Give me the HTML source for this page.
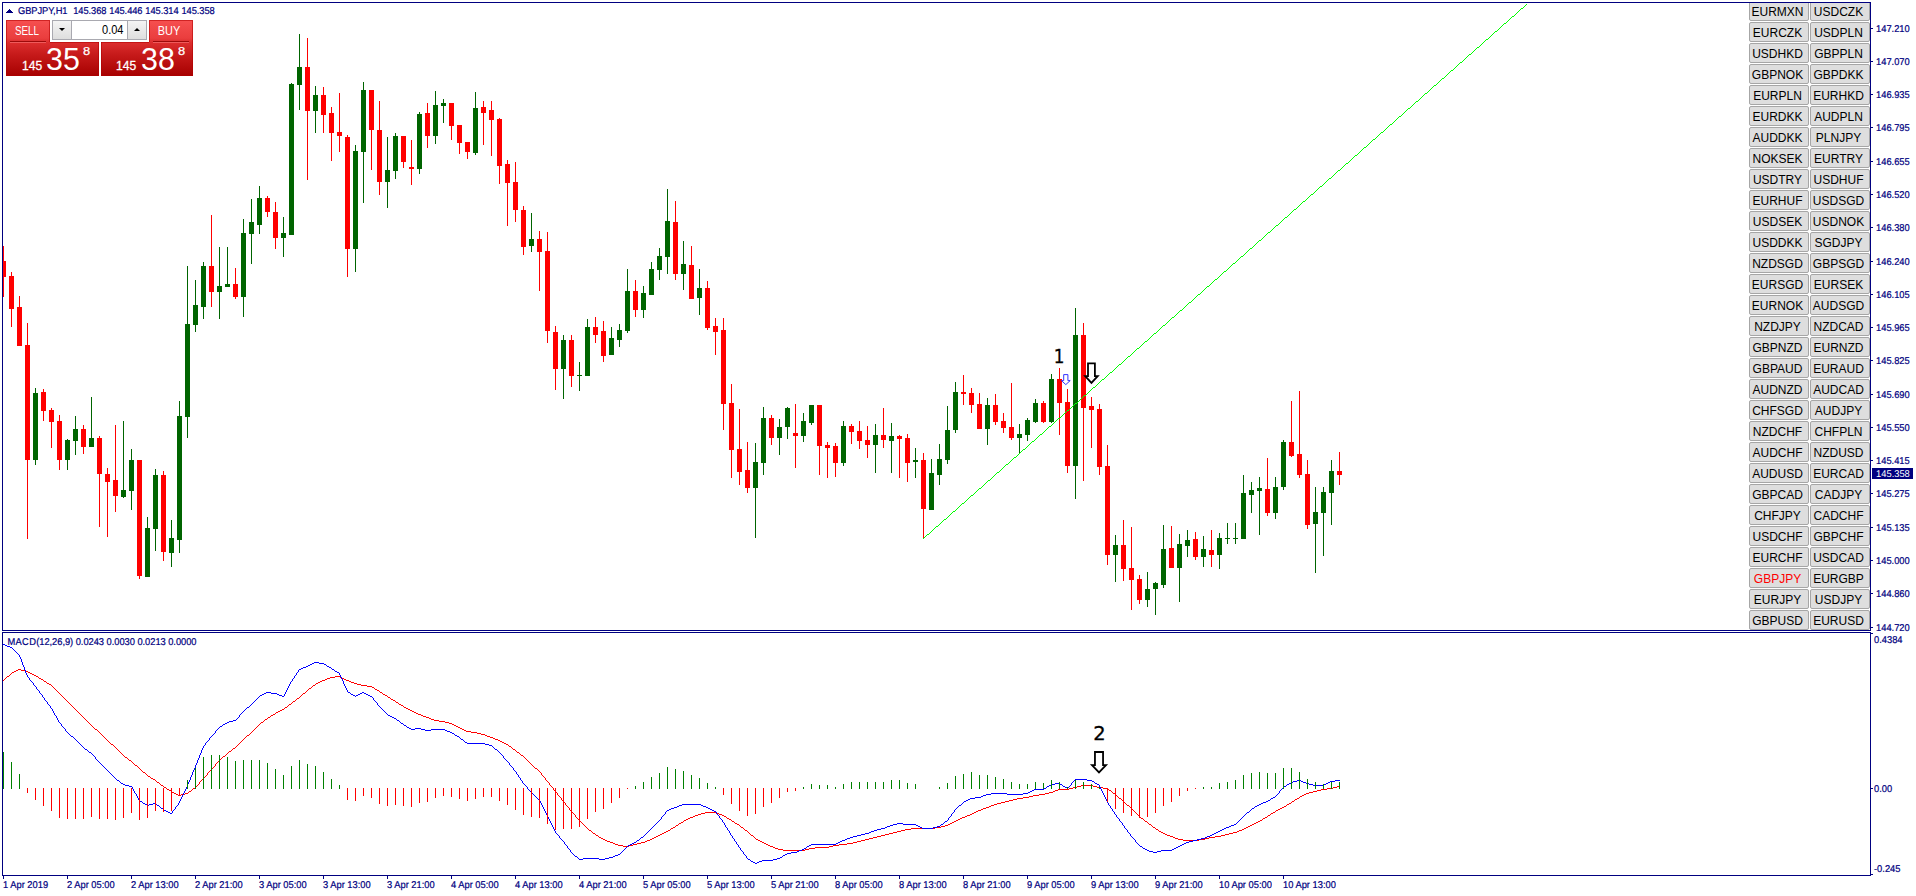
<!DOCTYPE html>
<html lang="en"><head><meta charset="utf-8"><title>GBPJPY,H1</title>
<style>
html,body{margin:0;padding:0;background:#fff}
body{width:1916px;height:896px;position:relative;overflow:hidden;font-family:"Liberation Sans",sans-serif}
.ax{position:absolute;font-size:9.33px;line-height:11px;color:#000080;white-space:nowrap;text-rendering:geometricPrecision;transform-origin:0 7.73px;transform:scaleY(1.06);-webkit-text-stroke:.2px #000080}
.cur{position:absolute;width:41px;height:11px;background:#000080}
.cur span{position:absolute;left:4.1px;top:1.27px;color:#fff;font-size:9.33px;line-height:11px;white-space:nowrap;text-rendering:geometricPrecision;transform-origin:0 8.73px;transform:scaleY(1.06)}
.trisvg{position:absolute;left:6px;top:9px}
.num{position:absolute;font-family:"DejaVu Sans",sans-serif;font-size:19.5px;line-height:22px;color:#000;-webkit-text-stroke:.3px #000}
.sb{position:absolute;box-sizing:border-box;width:60px;height:20px;background:#dedede;border:1px solid #a6a6a6;border-radius:2px;font-size:12px;line-height:19px;text-align:center;color:#000;white-space:nowrap}
.sb span{display:block;margin:0 -4px;position:relative;left:-1.5px;top:1px}
.cap{position:absolute;left:1749px;top:0;width:121px;height:3px;background:linear-gradient(#fff 0,#fff 2px,#000080 2px,#000080 3px)}
#tp{position:absolute;left:6px;top:20px;width:187px;height:56px}
#tp>*{position:absolute}
.tb,.tbg{background-image:linear-gradient(#f65050 0,#ea3e3e 18px,#dc2e2e 40%,#c61a1a 62%,#a60000 100%);background-size:100% 56px;background-repeat:no-repeat;box-shadow:inset 0 0 0 1px rgba(176,0,0,.55)}
.tbg{background-position:0 -22px;box-shadow:inset 1px 0 0 rgba(176,0,0,.55),inset -1px 0 0 rgba(176,0,0,.55),inset 0 -1px 0 rgba(176,0,0,.55)}
.tl2{height:1px;background:rgba(176,0,0,.55)}
.ul{height:1px;background:#9c0a0a;box-shadow:0 1px 0 rgba(255,130,130,.55)}
.tl{color:#fff;font-size:12px;line-height:16px;text-align:center;transform:scaleX(.82)}
.spin{left:46px;top:0;width:95px;height:20px;background:#fff;border:1px solid #a9a9b0;box-sizing:border-box}
.sbt{position:absolute;top:0;width:18px;height:18px;background:linear-gradient(#f4f4f4,#dedede)}
.sbt.l{border-right:1px solid #a9a9b0}.sbt.r{border-left:1px solid #a9a9b0}
.sin{position:absolute;left:19px;width:51.5px;top:0;height:18px;text-align:right;font-size:12.6px;line-height:19px;color:#000;transform-origin:100% 50%;transform:scaleX(.875)}
.sbt i{position:absolute;left:6px;width:0;height:0;border-left:3px solid transparent;border-right:3px solid transparent}
.sbt i.dn{top:7px;border-top:3px solid #000}
.sbt i.up{top:7px;border-bottom:3px solid #000}
.sm{color:#fff;-webkit-text-stroke:.3px #fff;font-size:13px;line-height:12px;transform-origin:0 0;transform:scaleX(.93)}
.bg{color:#fff;font-size:31px;line-height:34px;transform-origin:0 0;transform:scaleX(.98)}
.sp{color:#fff;-webkit-text-stroke:.25px #fff;font-size:11.5px;line-height:12px;transform-origin:0 0;transform:scaleX(1.12)}
</style></head>
<body>
<svg width="1916" height="896" viewBox="0 0 1916 896" style="position:absolute;left:0;top:0" shape-rendering="crispEdges">
<g id="candles"><path fill="#ff0000" d="M3 246h1v51h-1zM1 261h5v16h-5zM11 272h1v55h-1zM9 276h5v33h-5zM19 296h1v50h-1zM17 307h5v39h-5zM27 323h1v216h-1zM25 345h5v115h-5zM43 389h1v32h-1zM41 392h5v19h-5zM51 408h1v40h-1zM49 410h5v12h-5zM59 415h1v55h-1zM57 421h5v39h-5zM83 425h1v29h-1zM81 429h5v18h-5zM99 436h1v91h-1zM97 438h5v36h-5zM107 468h1v69h-1zM105 474h5v8h-5zM115 425h1v87h-1zM113 480h5v16h-5zM139 460h1v119h-1zM137 460h5v116h-5zM163 471h1v90h-1zM161 475h5v77h-5zM211 215h1v92h-1zM209 266h5v26h-5zM235 268h1v31h-1zM233 284h5v13h-5zM267 196h1v21h-1zM265 198h5v14h-5zM275 202h1v47h-1zM273 212h5v26h-5zM307 38h1v142h-1zM305 67h5v44h-5zM323 87h1v46h-1zM321 95h5v20h-5zM331 107h1v54h-1zM329 113h5v20h-5zM339 93h1v59h-1zM337 132h5v4h-5zM347 135h1v142h-1zM345 137h5v112h-5zM371 90h1v80h-1zM369 90h5v40h-5zM379 101h1v94h-1zM377 130h5v52h-5zM403 136h1v32h-1zM401 136h5v26h-5zM411 140h1v45h-1zM409 167h5v2h-5zM427 103h1v45h-1zM425 113h5v23h-5zM451 103h1v37h-1zM449 103h5v23h-5zM459 125h1v29h-1zM457 125h5v18h-5zM467 142h1v17h-1zM465 142h5v10h-5zM483 101h1v44h-1zM481 107h5v6h-5zM491 101h1v55h-1zM489 110h5v10h-5zM499 118h1v66h-1zM497 119h5v47h-5zM507 160h1v66h-1zM505 164h5v19h-5zM515 162h1v60h-1zM513 182h5v28h-5zM523 206h1v49h-1zM521 210h5v37h-5zM539 231h1v60h-1zM537 239h5v13h-5zM547 232h1v111h-1zM545 251h5v80h-5zM555 326h1v64h-1zM553 332h5v37h-5zM571 335h1v52h-1zM569 340h5v36h-5zM595 317h1v26h-1zM593 327h5v8h-5zM603 321h1v41h-1zM601 331h5v25h-5zM635 280h1v37h-1zM633 291h5v19h-5zM675 201h1v79h-1zM673 222h5v52h-5zM691 246h1v53h-1zM689 265h5v34h-5zM707 281h1v49h-1zM705 288h5v40h-5zM715 318h1v37h-1zM713 326h5v6h-5zM723 318h1v112h-1zM721 330h5v74h-5zM731 384h1v94h-1zM729 403h5v47h-5zM739 409h1v76h-1zM737 449h5v23h-5zM747 442h1v51h-1zM745 470h5v18h-5zM771 415h1v30h-1zM769 418h5v20h-5zM795 404h1v64h-1zM793 433h5v3h-5zM819 405h1v70h-1zM817 405h5v41h-5zM827 442h1v36h-1zM825 445h5v3h-5zM835 443h1v34h-1zM833 446h5v17h-5zM851 424h1v20h-1zM849 426h5v6h-5zM859 421h1v28h-1zM857 431h5v10h-5zM867 426h1v32h-1zM865 440h5v5h-5zM883 408h1v40h-1zM881 435h5v5h-5zM899 435h1v43h-1zM897 436h5v3h-5zM907 434h1v48h-1zM905 438h5v25h-5zM923 453h1v86h-1zM921 460h5v49h-5zM963 375h1v30h-1zM961 392h5v2h-5zM971 388h1v25h-1zM969 393h5v12h-5zM979 393h1v36h-1zM977 404h5v25h-5zM995 394h1v31h-1zM993 405h5v17h-5zM1003 413h1v20h-1zM1001 421h5v7h-5zM1011 383h1v57h-1zM1009 427h5v11h-5zM1043 401h1v22h-1zM1041 403h5v19h-5zM1059 368h1v67h-1zM1057 379h5v24h-5zM1067 389h1v84h-1zM1065 402h5v64h-5zM1083 323h1v158h-1zM1081 335h5v73h-5zM1091 397h1v51h-1zM1089 406h5v4h-5zM1099 404h1v71h-1zM1097 409h5v58h-5zM1107 445h1v120h-1zM1105 466h5v89h-5zM1123 520h1v61h-1zM1121 545h5v24h-5zM1131 527h1v83h-1zM1129 568h5v12h-5zM1139 575h1v29h-1zM1137 579h5v21h-5zM1171 526h1v42h-1zM1169 548h5v20h-5zM1195 532h1v28h-1zM1193 539h5v18h-5zM1211 530h1v37h-1zM1209 550h5v5h-5zM1267 458h1v58h-1zM1265 489h5v24h-5zM1291 401h1v56h-1zM1289 442h5v14h-5zM1299 391h1v87h-1zM1297 454h5v21h-5zM1307 460h1v69h-1zM1305 474h5v51h-5zM1339 452h1v33h-1zM1337 471h5v4h-5z"/>
<path fill="#006400" d="M35 388h1v77h-1zM33 393h5v67h-5zM67 439h1v31h-1zM65 440h5v20h-5zM75 416h1v39h-1zM73 429h5v12h-5zM91 397h1v50h-1zM89 438h5v9h-5zM123 421h1v77h-1zM121 490h5v7h-5zM131 449h1v61h-1zM129 460h5v31h-5zM147 517h1v60h-1zM145 528h5v49h-5zM155 469h1v82h-1zM153 475h5v54h-5zM171 520h1v47h-1zM169 538h5v15h-5zM179 401h1v152h-1zM177 416h5v124h-5zM187 266h1v172h-1zM185 324h5v93h-5zM195 280h1v52h-1zM193 305h5v20h-5zM203 262h1v57h-1zM201 266h5v41h-5zM219 247h1v72h-1zM217 286h5v6h-5zM227 247h1v40h-1zM225 284h5v3h-5zM243 219h1v98h-1zM241 233h5v64h-5zM251 199h1v65h-1zM249 222h5v12h-5zM259 186h1v48h-1zM257 198h5v27h-5zM283 217h1v40h-1zM281 233h5v5h-5zM291 83h1v152h-1zM289 84h5v151h-5zM299 34h1v76h-1zM297 67h5v18h-5zM315 86h1v47h-1zM313 95h5v16h-5zM355 145h1v127h-1zM353 151h5v98h-5zM363 82h1v121h-1zM361 90h5v62h-5zM387 137h1v71h-1zM385 170h5v12h-5zM395 133h1v46h-1zM393 136h5v35h-5zM419 112h1v62h-1zM417 114h5v55h-5zM435 91h1v53h-1zM433 105h5v31h-5zM443 99h1v24h-1zM441 103h5v3h-5zM475 92h1v63h-1zM473 108h5v45h-5zM531 213h1v39h-1zM529 239h5v7h-5zM563 335h1v64h-1zM561 340h5v29h-5zM579 362h1v29h-1zM577 375h5v1h-5zM587 319h1v57h-1zM585 327h5v49h-5zM611 327h1v28h-1zM609 338h5v17h-5zM619 324h1v23h-1zM617 330h5v10h-5zM627 269h1v64h-1zM625 291h5v40h-5zM643 286h1v32h-1zM641 293h5v17h-5zM651 262h1v33h-1zM649 269h5v26h-5zM659 248h1v32h-1zM657 256h5v14h-5zM667 189h1v85h-1zM665 221h5v36h-5zM683 241h1v49h-1zM681 264h5v10h-5zM699 269h1v46h-1zM697 288h5v10h-5zM755 443h1v95h-1zM753 462h5v26h-5zM763 407h1v68h-1zM761 418h5v45h-5zM779 419h1v36h-1zM777 427h5v11h-5zM787 407h1v32h-1zM785 408h5v19h-5zM803 413h1v29h-1zM801 421h5v15h-5zM811 405h1v20h-1zM809 405h5v18h-5zM843 421h1v45h-1zM841 426h5v37h-5zM875 424h1v49h-1zM873 435h5v10h-5zM891 423h1v50h-1zM889 436h5v5h-5zM915 448h1v30h-1zM913 460h5v2h-5zM931 459h1v51h-1zM929 473h5v37h-5zM939 444h1v41h-1zM937 459h5v16h-5zM947 406h1v58h-1zM945 430h5v30h-5zM955 382h1v51h-1zM953 392h5v38h-5zM987 398h1v47h-1zM985 405h5v24h-5zM1019 424h1v29h-1zM1017 434h5v4h-5zM1027 418h1v23h-1zM1025 420h5v15h-5zM1035 399h1v24h-1zM1033 403h5v19h-5zM1051 374h1v49h-1zM1049 379h5v43h-5zM1075 308h1v191h-1zM1073 335h5v131h-5zM1115 535h1v47h-1zM1113 545h5v10h-5zM1147 572h1v35h-1zM1145 589h5v11h-5zM1155 582h1v33h-1zM1153 583h5v6h-5zM1163 525h1v63h-1zM1161 549h5v36h-5zM1179 534h1v68h-1zM1177 544h5v24h-5zM1187 530h1v27h-1zM1185 540h5v6h-5zM1203 536h1v31h-1zM1201 549h5v8h-5zM1219 533h1v36h-1zM1217 538h5v17h-5zM1227 523h1v21h-1zM1225 538h5v1h-5zM1235 523h1v21h-1zM1233 538h5v1h-5zM1243 475h1v64h-1zM1241 493h5v46h-5zM1251 482h1v31h-1zM1249 490h5v5h-5zM1259 477h1v58h-1zM1257 488h5v3h-5zM1275 477h1v42h-1zM1273 487h5v26h-5zM1283 440h1v50h-1zM1281 442h5v45h-5zM1315 487h1v86h-1zM1313 512h5v12h-5zM1323 487h1v69h-1zM1321 492h5v21h-5zM1331 460h1v65h-1zM1329 471h5v22h-5z"/></g>
<g id="trend"><path fill="#00ff00" d="M923 538h1v1h-1zM924 537h1v1h-1zM925 536h1v1h-1zM926 535h1v1h-1zM927 534h2v1h-2zM929 533h1v1h-1zM930 532h1v1h-1zM931 531h1v1h-1zM932 530h1v1h-1zM933 529h1v1h-1zM934 528h1v1h-1zM935 527h1v1h-1zM936 526h2v1h-2zM938 525h1v1h-1zM939 524h1v1h-1zM940 523h1v1h-1zM941 522h1v1h-1zM942 521h1v1h-1zM943 520h1v1h-1zM944 519h2v1h-2zM946 518h1v1h-1zM947 517h1v1h-1zM948 516h1v1h-1zM949 515h1v1h-1zM950 514h1v1h-1zM951 513h1v1h-1zM952 512h1v1h-1zM953 511h2v1h-2zM955 510h1v1h-1zM956 509h1v1h-1zM957 508h1v1h-1zM958 507h1v1h-1zM959 506h1v1h-1zM960 505h1v1h-1zM961 504h1v1h-1zM962 503h2v1h-2zM964 502h1v1h-1zM965 501h1v1h-1zM966 500h1v1h-1zM967 499h1v1h-1zM968 498h1v1h-1zM969 497h1v1h-1zM970 496h1v1h-1zM971 495h2v1h-2zM973 494h1v1h-1zM974 493h1v1h-1zM975 492h1v1h-1zM976 491h1v1h-1zM977 490h1v1h-1zM978 489h1v1h-1zM979 488h2v1h-2zM981 487h1v1h-1zM982 486h1v1h-1zM983 485h1v1h-1zM984 484h1v1h-1zM985 483h1v1h-1zM986 482h1v1h-1zM987 481h1v1h-1zM988 480h2v1h-2zM990 479h1v1h-1zM991 478h1v1h-1zM992 477h1v1h-1zM993 476h1v1h-1zM994 475h1v1h-1zM995 474h1v1h-1zM996 473h1v1h-1zM997 472h2v1h-2zM999 471h1v1h-1zM1000 470h1v1h-1zM1001 469h1v1h-1zM1002 468h1v1h-1zM1003 467h1v1h-1zM1004 466h1v1h-1zM1005 465h1v1h-1zM1006 464h2v1h-2zM1008 463h1v1h-1zM1009 462h1v1h-1zM1010 461h1v1h-1zM1011 460h1v1h-1zM1012 459h1v1h-1zM1013 458h1v1h-1zM1014 457h2v1h-2zM1016 456h1v1h-1zM1017 455h1v1h-1zM1018 454h1v1h-1zM1019 453h1v1h-1zM1020 452h1v1h-1zM1021 451h1v1h-1zM1022 450h1v1h-1zM1023 449h2v1h-2zM1025 448h1v1h-1zM1026 447h1v1h-1zM1027 446h1v1h-1zM1028 445h1v1h-1zM1029 444h1v1h-1zM1030 443h1v1h-1zM1031 442h1v1h-1zM1032 441h2v1h-2zM1034 440h1v1h-1zM1035 439h1v1h-1zM1036 438h1v1h-1zM1037 437h1v1h-1zM1038 436h1v1h-1zM1039 435h1v1h-1zM1040 434h2v1h-2zM1042 433h1v1h-1zM1043 432h1v1h-1zM1044 431h1v1h-1zM1045 430h1v1h-1zM1046 429h1v1h-1zM1047 428h1v1h-1zM1048 427h1v1h-1zM1049 426h2v1h-2zM1051 425h1v1h-1zM1052 424h1v1h-1zM1053 423h1v1h-1zM1054 422h1v1h-1zM1055 421h1v1h-1zM1056 420h1v1h-1zM1057 419h1v1h-1zM1058 418h2v1h-2zM1060 417h1v1h-1zM1061 416h1v1h-1zM1062 415h1v1h-1zM1063 414h1v1h-1zM1064 413h1v1h-1zM1065 412h1v1h-1zM1066 411h1v1h-1zM1067 410h2v1h-2zM1069 409h1v1h-1zM1070 408h1v1h-1zM1071 407h1v1h-1zM1072 406h1v1h-1zM1073 405h1v1h-1zM1074 404h1v1h-1zM1075 403h2v1h-2zM1077 402h1v1h-1zM1078 401h1v1h-1zM1079 400h1v1h-1zM1080 399h1v1h-1zM1081 398h1v1h-1zM1082 397h1v1h-1zM1083 396h1v1h-1zM1084 395h2v1h-2zM1086 394h1v1h-1zM1087 393h1v1h-1zM1088 392h1v1h-1zM1089 391h1v1h-1zM1090 390h1v1h-1zM1091 389h1v1h-1zM1092 388h1v1h-1zM1093 387h2v1h-2zM1095 386h1v1h-1zM1096 385h1v1h-1zM1097 384h1v1h-1zM1098 383h1v1h-1zM1099 382h1v1h-1zM1100 381h1v1h-1zM1101 380h1v1h-1zM1102 379h2v1h-2zM1104 378h1v1h-1zM1105 377h1v1h-1zM1106 376h1v1h-1zM1107 375h1v1h-1zM1108 374h1v1h-1zM1109 373h1v1h-1zM1110 372h2v1h-2zM1112 371h1v1h-1zM1113 370h1v1h-1zM1114 369h1v1h-1zM1115 368h1v1h-1zM1116 367h1v1h-1zM1117 366h1v1h-1zM1118 365h1v1h-1zM1119 364h2v1h-2zM1121 363h1v1h-1zM1122 362h1v1h-1zM1123 361h1v1h-1zM1124 360h1v1h-1zM1125 359h1v1h-1zM1126 358h1v1h-1zM1127 357h1v1h-1zM1128 356h2v1h-2zM1130 355h1v1h-1zM1131 354h1v1h-1zM1132 353h1v1h-1zM1133 352h1v1h-1zM1134 351h1v1h-1zM1135 350h1v1h-1zM1136 349h1v1h-1zM1137 348h2v1h-2zM1139 347h1v1h-1zM1140 346h1v1h-1zM1141 345h1v1h-1zM1142 344h1v1h-1zM1143 343h1v1h-1zM1144 342h1v1h-1zM1145 341h2v1h-2zM1147 340h1v1h-1zM1148 339h1v1h-1zM1149 338h1v1h-1zM1150 337h1v1h-1zM1151 336h1v1h-1zM1152 335h1v1h-1zM1153 334h1v1h-1zM1154 333h2v1h-2zM1156 332h1v1h-1zM1157 331h1v1h-1zM1158 330h1v1h-1zM1159 329h1v1h-1zM1160 328h1v1h-1zM1161 327h1v1h-1zM1162 326h1v1h-1zM1163 325h2v1h-2zM1165 324h1v1h-1zM1166 323h1v1h-1zM1167 322h1v1h-1zM1168 321h1v1h-1zM1169 320h1v1h-1zM1170 319h1v1h-1zM1171 318h1v1h-1zM1172 317h2v1h-2zM1174 316h1v1h-1zM1175 315h1v1h-1zM1176 314h1v1h-1zM1177 313h1v1h-1zM1178 312h1v1h-1zM1179 311h1v1h-1zM1180 310h2v1h-2zM1182 309h1v1h-1zM1183 308h1v1h-1zM1184 307h1v1h-1zM1185 306h1v1h-1zM1186 305h1v1h-1zM1187 304h1v1h-1zM1188 303h1v1h-1zM1189 302h2v1h-2zM1191 301h1v1h-1zM1192 300h1v1h-1zM1193 299h1v1h-1zM1194 298h1v1h-1zM1195 297h1v1h-1zM1196 296h1v1h-1zM1197 295h1v1h-1zM1198 294h2v1h-2zM1200 293h1v1h-1zM1201 292h1v1h-1zM1202 291h1v1h-1zM1203 290h1v1h-1zM1204 289h1v1h-1zM1205 288h1v1h-1zM1206 287h1v1h-1zM1207 286h2v1h-2zM1209 285h1v1h-1zM1210 284h1v1h-1zM1211 283h1v1h-1zM1212 282h1v1h-1zM1213 281h1v1h-1zM1214 280h1v1h-1zM1215 279h2v1h-2zM1217 278h1v1h-1zM1218 277h1v1h-1zM1219 276h1v1h-1zM1220 275h1v1h-1zM1221 274h1v1h-1zM1222 273h1v1h-1zM1223 272h1v1h-1zM1224 271h2v1h-2zM1226 270h1v1h-1zM1227 269h1v1h-1zM1228 268h1v1h-1zM1229 267h1v1h-1zM1230 266h1v1h-1zM1231 265h1v1h-1zM1232 264h1v1h-1zM1233 263h2v1h-2zM1235 262h1v1h-1zM1236 261h1v1h-1zM1237 260h1v1h-1zM1238 259h1v1h-1zM1239 258h1v1h-1zM1240 257h1v1h-1zM1241 256h2v1h-2zM1243 255h1v1h-1zM1244 254h1v1h-1zM1245 253h1v1h-1zM1246 252h1v1h-1zM1247 251h1v1h-1zM1248 250h1v1h-1zM1249 249h1v1h-1zM1250 248h2v1h-2zM1252 247h1v1h-1zM1253 246h1v1h-1zM1254 245h1v1h-1zM1255 244h1v1h-1zM1256 243h1v1h-1zM1257 242h1v1h-1zM1258 241h1v1h-1zM1259 240h2v1h-2zM1261 239h1v1h-1zM1262 238h1v1h-1zM1263 237h1v1h-1zM1264 236h1v1h-1zM1265 235h1v1h-1zM1266 234h1v1h-1zM1267 233h1v1h-1zM1268 232h2v1h-2zM1270 231h1v1h-1zM1271 230h1v1h-1zM1272 229h1v1h-1zM1273 228h1v1h-1zM1274 227h1v1h-1zM1275 226h1v1h-1zM1276 225h2v1h-2zM1278 224h1v1h-1zM1279 223h1v1h-1zM1280 222h1v1h-1zM1281 221h1v1h-1zM1282 220h1v1h-1zM1283 219h1v1h-1zM1284 218h1v1h-1zM1285 217h2v1h-2zM1287 216h1v1h-1zM1288 215h1v1h-1zM1289 214h1v1h-1zM1290 213h1v1h-1zM1291 212h1v1h-1zM1292 211h1v1h-1zM1293 210h1v1h-1zM1294 209h2v1h-2zM1296 208h1v1h-1zM1297 207h1v1h-1zM1298 206h1v1h-1zM1299 205h1v1h-1zM1300 204h1v1h-1zM1301 203h1v1h-1zM1302 202h1v1h-1zM1303 201h2v1h-2zM1305 200h1v1h-1zM1306 199h1v1h-1zM1307 198h1v1h-1zM1308 197h1v1h-1zM1309 196h1v1h-1zM1310 195h1v1h-1zM1311 194h2v1h-2zM1313 193h1v1h-1zM1314 192h1v1h-1zM1315 191h1v1h-1zM1316 190h1v1h-1zM1317 189h1v1h-1zM1318 188h1v1h-1zM1319 187h1v1h-1zM1320 186h2v1h-2zM1322 185h1v1h-1zM1323 184h1v1h-1zM1324 183h1v1h-1zM1325 182h1v1h-1zM1326 181h1v1h-1zM1327 180h1v1h-1zM1328 179h1v1h-1zM1329 178h2v1h-2zM1331 177h1v1h-1zM1332 176h1v1h-1zM1333 175h1v1h-1zM1334 174h1v1h-1zM1335 173h1v1h-1zM1336 172h1v1h-1zM1337 171h1v1h-1zM1338 170h2v1h-2zM1340 169h1v1h-1zM1341 168h1v1h-1zM1342 167h1v1h-1zM1343 166h1v1h-1zM1344 165h1v1h-1zM1345 164h1v1h-1zM1346 163h2v1h-2zM1348 162h1v1h-1zM1349 161h1v1h-1zM1350 160h1v1h-1zM1351 159h1v1h-1zM1352 158h1v1h-1zM1353 157h1v1h-1zM1354 156h1v1h-1zM1355 155h2v1h-2zM1357 154h1v1h-1zM1358 153h1v1h-1zM1359 152h1v1h-1zM1360 151h1v1h-1zM1361 150h1v1h-1zM1362 149h1v1h-1zM1363 148h1v1h-1zM1364 147h2v1h-2zM1366 146h1v1h-1zM1367 145h1v1h-1zM1368 144h1v1h-1zM1369 143h1v1h-1zM1370 142h1v1h-1zM1371 141h1v1h-1zM1372 140h1v1h-1zM1373 139h2v1h-2zM1375 138h1v1h-1zM1376 137h1v1h-1zM1377 136h1v1h-1zM1378 135h1v1h-1zM1379 134h1v1h-1zM1380 133h1v1h-1zM1381 132h2v1h-2zM1383 131h1v1h-1zM1384 130h1v1h-1zM1385 129h1v1h-1zM1386 128h1v1h-1zM1387 127h1v1h-1zM1388 126h1v1h-1zM1389 125h1v1h-1zM1390 124h2v1h-2zM1392 123h1v1h-1zM1393 122h1v1h-1zM1394 121h1v1h-1zM1395 120h1v1h-1zM1396 119h1v1h-1zM1397 118h1v1h-1zM1398 117h1v1h-1zM1399 116h2v1h-2zM1401 115h1v1h-1zM1402 114h1v1h-1zM1403 113h1v1h-1zM1404 112h1v1h-1zM1405 111h1v1h-1zM1406 110h1v1h-1zM1407 109h1v1h-1zM1408 108h2v1h-2zM1410 107h1v1h-1zM1411 106h1v1h-1zM1412 105h1v1h-1zM1413 104h1v1h-1zM1414 103h1v1h-1zM1415 102h1v1h-1zM1416 101h2v1h-2zM1418 100h1v1h-1zM1419 99h1v1h-1zM1420 98h1v1h-1zM1421 97h1v1h-1zM1422 96h1v1h-1zM1423 95h1v1h-1zM1424 94h1v1h-1zM1425 93h2v1h-2zM1427 92h1v1h-1zM1428 91h1v1h-1zM1429 90h1v1h-1zM1430 89h1v1h-1zM1431 88h1v1h-1zM1432 87h1v1h-1zM1433 86h1v1h-1zM1434 85h2v1h-2zM1436 84h1v1h-1zM1437 83h1v1h-1zM1438 82h1v1h-1zM1439 81h1v1h-1zM1440 80h1v1h-1zM1441 79h1v1h-1zM1442 78h2v1h-2zM1444 77h1v1h-1zM1445 76h1v1h-1zM1446 75h1v1h-1zM1447 74h1v1h-1zM1448 73h1v1h-1zM1449 72h1v1h-1zM1450 71h1v1h-1zM1451 70h2v1h-2zM1453 69h1v1h-1zM1454 68h1v1h-1zM1455 67h1v1h-1zM1456 66h1v1h-1zM1457 65h1v1h-1zM1458 64h1v1h-1zM1459 63h1v1h-1zM1460 62h2v1h-2zM1462 61h1v1h-1zM1463 60h1v1h-1zM1464 59h1v1h-1zM1465 58h1v1h-1zM1466 57h1v1h-1zM1467 56h1v1h-1zM1468 55h1v1h-1zM1469 54h2v1h-2zM1471 53h1v1h-1zM1472 52h1v1h-1zM1473 51h1v1h-1zM1474 50h1v1h-1zM1475 49h1v1h-1zM1476 48h1v1h-1zM1477 47h2v1h-2zM1479 46h1v1h-1zM1480 45h1v1h-1zM1481 44h1v1h-1zM1482 43h1v1h-1zM1483 42h1v1h-1zM1484 41h1v1h-1zM1485 40h1v1h-1zM1486 39h2v1h-2zM1488 38h1v1h-1zM1489 37h1v1h-1zM1490 36h1v1h-1zM1491 35h1v1h-1zM1492 34h1v1h-1zM1493 33h1v1h-1zM1494 32h1v1h-1zM1495 31h2v1h-2zM1497 30h1v1h-1zM1498 29h1v1h-1zM1499 28h1v1h-1zM1500 27h1v1h-1zM1501 26h1v1h-1zM1502 25h1v1h-1zM1503 24h1v1h-1zM1504 23h2v1h-2zM1506 22h1v1h-1zM1507 21h1v1h-1zM1508 20h1v1h-1zM1509 19h1v1h-1zM1510 18h1v1h-1zM1511 17h1v1h-1zM1512 16h2v1h-2zM1514 15h1v1h-1zM1515 14h1v1h-1zM1516 13h1v1h-1zM1517 12h1v1h-1zM1518 11h1v1h-1zM1519 10h1v1h-1zM1520 9h1v1h-1zM1521 8h2v1h-2zM1523 7h1v1h-1zM1524 6h1v1h-1zM1525 5h1v1h-1zM1526 4h1v1h-1z"/></g>
<g id="macd"><path fill="#ff0000" d="M3 680h1v1h-1zM4 679h1v1h-1zM5 678h1v1h-1zM6 677h1v1h-1zM7 676h2v1h-2zM9 675h1v1h-1zM10 674h1v1h-1zM11 673h1v1h-1zM12 672h2v1h-2zM14 671h2v1h-2zM16 670h2v1h-2zM18 669h3v1h-3zM21 670h4v1h-4zM25 671h3v1h-3zM28 672h2v1h-2zM30 673h2v1h-2zM32 674h2v1h-2zM34 675h2v1h-2zM36 676h2v1h-2zM38 677h1v1h-1zM39 678h2v1h-2zM41 679h2v1h-2zM43 680h1v1h-1zM44 681h2v1h-2zM46 682h1v1h-1zM47 683h2v1h-2zM49 684h2v1h-2zM51 685h1v1h-1zM52 686h1v1h-1zM53 687h1v1h-1zM54 688h1v1h-1zM55 689h1v1h-1zM56 690h1v1h-1zM57 691h1v1h-1zM58 692h1v1h-1zM59 693h1v1h-1zM60 694h1v1h-1zM61 695h1v1h-1zM62 696h1v1h-1zM63 697h1v1h-1zM64 698h1v1h-1zM65 699h1v1h-1zM66 700h1v1h-1zM67 701h1v1h-1zM68 702h1v1h-1zM69 703h1v1h-1zM70 704h1v1h-1zM71 705h1v1h-1zM72 706h1v1h-1zM73 707h1v1h-1zM74 708h1v1h-1zM75 709h1v1h-1zM76 710h1v1h-1zM77 711h1v1h-1zM78 712h1v1h-1zM79 713h1v1h-1zM80 714h1v1h-1zM81 715h1v1h-1zM82 716h1v1h-1zM83 717h1v1h-1zM84 718h1v1h-1zM85 719h1v1h-1zM86 720h1v1h-1zM87 721h1v1h-1zM88 722h1v1h-1zM89 723h1v1h-1zM90 724h1v1h-1zM91 725h1v1h-1zM92 726h1v1h-1zM93 727h1v1h-1zM94 728h1v1h-1zM95 729h2v1h-2zM97 730h1v1h-1zM98 731h1v1h-1zM99 732h1v1h-1zM100 733h1v1h-1zM101 734h1v1h-1zM102 735h1v1h-1zM103 736h1v1h-1zM104 737h1v1h-1zM105 738h1v1h-1zM106 739h1v1h-1zM107 740h1v1h-1zM108 741h1v1h-1zM109 742h1v1h-1zM110 743h1v1h-1zM111 744h2v1h-2zM113 745h1v1h-1zM114 746h1v1h-1zM115 747h1v1h-1zM116 748h1v1h-1zM117 749h1v1h-1zM118 750h1v1h-1zM119 751h1v1h-1zM120 752h1v1h-1zM121 753h1v1h-1zM122 754h1v1h-1zM123 755h1v1h-1zM124 756h1v1h-1zM125 757h2v1h-2zM127 758h1v1h-1zM128 759h1v1h-1zM129 760h2v1h-2zM131 761h1v1h-1zM132 762h1v1h-1zM133 763h1v1h-1zM134 764h1v1h-1zM135 765h2v1h-2zM137 766h1v1h-1zM138 767h1v1h-1zM139 768h1v1h-1zM140 769h1v1h-1zM141 770h1v1h-1zM142 771h1v1h-1zM143 772h2v1h-2zM145 773h1v1h-1zM146 774h1v1h-1zM147 775h1v1h-1zM148 776h2v1h-2zM150 777h1v1h-1zM151 778h2v1h-2zM153 779h2v1h-2zM155 780h1v1h-1zM156 781h1v1h-1zM157 782h2v1h-2zM159 783h1v1h-1zM160 784h1v1h-1zM161 785h2v1h-2zM163 786h1v1h-1zM164 787h2v1h-2zM166 788h1v1h-1zM167 789h2v1h-2zM169 790h2v1h-2zM171 791h1v1h-1zM172 792h2v1h-2zM174 793h2v1h-2zM176 794h2v1h-2zM178 795h3v1h-3zM181 794h4v1h-4zM185 793h3v1h-3zM188 792h1v1h-1zM189 791h2v1h-2zM191 790h1v1h-1zM192 789h1v1h-1zM193 788h2v1h-2zM195 787h1v1h-1zM196 786h1v1h-1zM197 785h1v1h-1zM198 784h1v1h-1zM199 782h1v2h-1zM200 781h1v1h-1zM201 780h1v1h-1zM202 779h1v1h-1zM203 778h1v1h-1zM204 777h1v1h-1zM205 776h1v1h-1zM206 775h1v1h-1zM207 773h1v2h-1zM208 772h1v1h-1zM209 771h1v1h-1zM210 770h1v1h-1zM211 769h1v1h-1zM212 768h1v1h-1zM213 767h1v1h-1zM214 766h1v1h-1zM215 764h1v2h-1zM216 763h1v1h-1zM217 762h1v1h-1zM218 761h1v1h-1zM219 760h1v1h-1zM220 759h1v1h-1zM221 758h1v1h-1zM222 757h1v1h-1zM223 756h2v1h-2zM225 755h1v1h-1zM226 754h1v1h-1zM227 753h1v1h-1zM228 752h1v1h-1zM229 751h2v1h-2zM231 750h1v1h-1zM232 749h1v1h-1zM233 748h2v1h-2zM235 747h1v1h-1zM236 746h1v1h-1zM237 745h1v1h-1zM238 744h1v1h-1zM239 743h1v1h-1zM240 742h1v1h-1zM241 741h1v1h-1zM242 740h1v1h-1zM243 739h1v1h-1zM244 738h1v1h-1zM245 737h1v1h-1zM246 736h1v1h-1zM247 735h2v1h-2zM249 734h1v1h-1zM250 733h1v1h-1zM251 732h1v1h-1zM252 731h1v1h-1zM253 730h1v1h-1zM254 729h1v1h-1zM255 728h1v1h-1zM256 727h1v1h-1zM257 726h1v1h-1zM258 725h1v1h-1zM259 724h1v1h-1zM260 723h1v1h-1zM261 722h2v1h-2zM263 721h1v1h-1zM264 720h1v1h-1zM265 719h2v1h-2zM267 718h1v1h-1zM268 717h2v1h-2zM270 716h1v1h-1zM271 715h2v1h-2zM273 714h2v1h-2zM275 713h1v1h-1zM276 712h2v1h-2zM278 711h2v1h-2zM280 710h2v1h-2zM282 709h2v1h-2zM284 708h1v1h-1zM285 707h2v1h-2zM287 706h1v1h-1zM288 705h1v1h-1zM289 704h2v1h-2zM291 703h1v1h-1zM292 702h1v1h-1zM293 701h2v1h-2zM295 700h1v1h-1zM296 699h1v1h-1zM297 698h2v1h-2zM299 697h1v1h-1zM300 696h1v1h-1zM301 695h1v1h-1zM302 694h1v1h-1zM303 693h2v1h-2zM305 692h1v1h-1zM306 691h1v1h-1zM307 690h1v1h-1zM308 689h1v1h-1zM309 688h2v1h-2zM311 687h1v1h-1zM312 686h1v1h-1zM313 685h2v1h-2zM315 684h1v1h-1zM316 683h2v1h-2zM318 682h2v1h-2zM320 681h2v1h-2zM322 680h3v1h-3zM325 679h2v1h-2zM327 678h3v1h-3zM330 677h5v1h-5zM335 676h5v1h-5zM340 677h2v1h-2zM342 678h2v1h-2zM344 679h2v1h-2zM346 680h3v1h-3zM349 681h2v1h-2zM351 682h3v1h-3zM354 683h3v1h-3zM357 684h4v1h-4zM361 685h6v1h-6zM367 686h5v1h-5zM372 687h2v1h-2zM374 688h1v1h-1zM375 689h2v1h-2zM377 690h2v1h-2zM379 691h1v1h-1zM380 692h2v1h-2zM382 693h1v1h-1zM383 694h2v1h-2zM385 695h2v1h-2zM387 696h1v1h-1zM388 697h2v1h-2zM390 698h1v1h-1zM391 699h2v1h-2zM393 700h2v1h-2zM395 701h1v1h-1zM396 702h2v1h-2zM398 703h1v1h-1zM399 704h2v1h-2zM401 705h2v1h-2zM403 706h1v1h-1zM404 707h2v1h-2zM406 708h2v1h-2zM408 709h2v1h-2zM410 710h2v1h-2zM412 711h2v1h-2zM414 712h2v1h-2zM416 713h2v1h-2zM418 714h3v1h-3zM421 715h2v1h-2zM423 716h3v1h-3zM426 717h3v1h-3zM429 718h2v1h-2zM431 719h3v1h-3zM434 720h5v1h-5zM439 721h6v1h-6zM445 722h4v1h-4zM449 723h3v1h-3zM452 724h2v1h-2zM454 725h2v1h-2zM456 726h2v1h-2zM458 727h2v1h-2zM460 728h2v1h-2zM462 729h2v1h-2zM464 730h2v1h-2zM466 731h5v1h-5zM471 732h6v1h-6zM477 733h4v1h-4zM481 734h4v1h-4zM485 735h2v1h-2zM487 736h3v1h-3zM490 737h3v1h-3zM493 738h2v1h-2zM495 739h3v1h-3zM498 740h2v1h-2zM500 741h2v1h-2zM502 742h2v1h-2zM504 743h2v1h-2zM506 744h2v1h-2zM508 745h1v1h-1zM509 746h2v1h-2zM511 747h1v1h-1zM512 748h1v1h-1zM513 749h2v1h-2zM515 750h1v1h-1zM516 751h1v1h-1zM517 752h2v1h-2zM519 753h1v1h-1zM520 754h1v1h-1zM521 755h2v1h-2zM523 756h1v1h-1zM524 757h1v1h-1zM525 758h1v1h-1zM526 759h1v1h-1zM527 760h1v1h-1zM528 761h1v1h-1zM529 762h1v1h-1zM530 763h1v1h-1zM531 764h1v1h-1zM532 765h1v1h-1zM533 766h1v1h-1zM534 767h1v1h-1zM535 768h2v1h-2zM537 769h1v1h-1zM538 770h1v1h-1zM539 771h1v1h-1zM540 772h1v1h-1zM541 773h1v2h-1zM542 775h1v1h-1zM543 776h1v1h-1zM544 777h1v1h-1zM545 778h1v2h-1zM546 780h1v1h-1zM547 781h1v1h-1zM548 782h1v1h-1zM549 783h1v2h-1zM550 785h1v1h-1zM551 786h1v1h-1zM552 787h1v1h-1zM553 788h1v2h-1zM554 790h1v1h-1zM555 791h1v1h-1zM556 792h1v1h-1zM557 793h1v2h-1zM558 795h1v1h-1zM559 796h1v1h-1zM560 797h1v1h-1zM561 798h1v2h-1zM562 800h1v1h-1zM563 801h1v1h-1zM564 802h1v1h-1zM565 803h1v2h-1zM566 805h1v1h-1zM567 806h1v1h-1zM568 807h1v1h-1zM569 808h1v2h-1zM570 810h1v1h-1zM571 811h1v1h-1zM572 812h1v1h-1zM573 813h1v1h-1zM574 814h1v1h-1zM575 815h1v2h-1zM576 817h1v1h-1zM577 818h1v1h-1zM578 819h1v1h-1zM579 820h1v1h-1zM580 821h1v1h-1zM581 822h1v1h-1zM582 823h1v1h-1zM583 824h1v1h-1zM584 825h1v1h-1zM585 826h1v1h-1zM586 827h1v1h-1zM587 828h1v1h-1zM588 829h1v1h-1zM589 830h2v1h-2zM591 831h1v1h-1zM592 832h1v1h-1zM593 833h2v1h-2zM595 834h1v1h-1zM596 835h2v1h-2zM598 836h1v1h-1zM599 837h2v1h-2zM601 838h2v1h-2zM603 839h2v1h-2zM605 840h2v1h-2zM607 841h3v1h-3zM610 842h3v1h-3zM613 843h2v1h-2zM615 844h3v1h-3zM618 845h5v1h-5zM623 846h6v1h-6zM629 845h4v1h-4zM633 844h4v1h-4zM637 843h4v1h-4zM641 842h4v1h-4zM645 841h2v1h-2zM647 840h3v1h-3zM650 839h2v1h-2zM652 838h2v1h-2zM654 837h2v1h-2zM656 836h2v1h-2zM658 835h2v1h-2zM660 834h2v1h-2zM662 833h2v1h-2zM664 832h2v1h-2zM666 831h2v1h-2zM668 830h2v1h-2zM670 829h1v1h-1zM671 828h2v1h-2zM673 827h2v1h-2zM675 826h1v1h-1zM676 825h2v1h-2zM678 824h1v1h-1zM679 823h2v1h-2zM681 822h2v1h-2zM683 821h1v1h-1zM684 820h2v1h-2zM686 819h2v1h-2zM688 818h2v1h-2zM690 817h3v1h-3zM693 816h2v1h-2zM695 815h3v1h-3zM698 814h3v1h-3zM701 813h4v1h-4zM705 812h12v1h-12zM717 813h2v1h-2zM719 814h3v1h-3zM722 815h2v1h-2zM724 816h2v1h-2zM726 817h1v1h-1zM727 818h2v1h-2zM729 819h2v1h-2zM731 820h1v1h-1zM732 821h2v1h-2zM734 822h1v1h-1zM735 823h2v1h-2zM737 824h2v1h-2zM739 825h1v1h-1zM740 826h1v1h-1zM741 827h2v1h-2zM743 828h1v1h-1zM744 829h1v1h-1zM745 830h2v1h-2zM747 831h1v1h-1zM748 832h1v1h-1zM749 833h1v1h-1zM750 834h1v1h-1zM751 835h2v1h-2zM753 836h1v1h-1zM754 837h1v1h-1zM755 838h1v1h-1zM756 839h2v1h-2zM758 840h2v1h-2zM760 841h2v1h-2zM762 842h2v1h-2zM764 843h2v1h-2zM766 844h2v1h-2zM768 845h2v1h-2zM770 846h3v1h-3zM773 847h2v1h-2zM775 848h3v1h-3zM778 849h5v1h-5zM783 850h22v1h-22zM805 849h4v1h-4zM809 848h6v1h-6zM815 847h14v1h-14zM829 846h4v1h-4zM833 845h6v1h-6zM839 844h8v1h-8zM847 843h6v1h-6zM853 842h4v1h-4zM857 841h4v1h-4zM861 840h4v1h-4zM865 839h4v1h-4zM869 838h4v1h-4zM873 837h4v1h-4zM877 836h4v1h-4zM881 835h4v1h-4zM885 834h4v1h-4zM889 833h4v1h-4zM893 832h4v1h-4zM897 831h4v1h-4zM901 830h4v1h-4zM905 829h6v1h-6zM911 828h24v1h-24zM935 827h6v1h-6zM941 826h4v1h-4zM945 825h3v1h-3zM948 824h2v1h-2zM950 823h2v1h-2zM952 822h2v1h-2zM954 821h2v1h-2zM956 820h2v1h-2zM958 819h2v1h-2zM960 818h2v1h-2zM962 817h3v1h-3zM965 816h2v1h-2zM967 815h3v1h-3zM970 814h2v1h-2zM972 813h2v1h-2zM974 812h2v1h-2zM976 811h2v1h-2zM978 810h3v1h-3zM981 809h2v1h-2zM983 808h3v1h-3zM986 807h3v1h-3zM989 806h2v1h-2zM991 805h3v1h-3zM994 804h3v1h-3zM997 803h4v1h-4zM1001 802h4v1h-4zM1005 801h4v1h-4zM1009 800h4v1h-4zM1013 799h4v1h-4zM1017 798h6v1h-6zM1023 797h6v1h-6zM1029 796h4v1h-4zM1033 795h6v1h-6zM1039 794h6v1h-6zM1045 793h4v1h-4zM1049 792h4v1h-4zM1053 791h2v1h-2zM1055 790h3v1h-3zM1058 789h11v1h-11zM1069 788h4v1h-4zM1073 787h4v1h-4zM1077 786h4v1h-4zM1081 785h12v1h-12zM1093 786h4v1h-4zM1097 787h6v1h-6zM1103 788h5v1h-5zM1108 789h1v1h-1zM1109 790h2v1h-2zM1111 791h1v1h-1zM1112 792h1v1h-1zM1113 793h2v1h-2zM1115 794h1v1h-1zM1116 795h1v1h-1zM1117 796h1v1h-1zM1118 797h1v1h-1zM1119 798h2v1h-2zM1121 799h1v1h-1zM1122 800h1v1h-1zM1123 801h1v1h-1zM1124 802h1v1h-1zM1125 803h1v1h-1zM1126 804h1v1h-1zM1127 805h2v1h-2zM1129 806h1v1h-1zM1130 807h1v1h-1zM1131 808h1v1h-1zM1132 809h1v1h-1zM1133 810h1v1h-1zM1134 811h1v1h-1zM1135 812h1v1h-1zM1136 813h1v1h-1zM1137 814h1v1h-1zM1138 815h1v1h-1zM1139 816h1v1h-1zM1140 817h1v1h-1zM1141 818h2v1h-2zM1143 819h1v1h-1zM1144 820h1v1h-1zM1145 821h2v1h-2zM1147 822h1v1h-1zM1148 823h1v1h-1zM1149 824h2v1h-2zM1151 825h1v1h-1zM1152 826h1v1h-1zM1153 827h2v1h-2zM1155 828h1v1h-1zM1156 829h2v1h-2zM1158 830h1v1h-1zM1159 831h2v1h-2zM1161 832h2v1h-2zM1163 833h2v1h-2zM1165 834h2v1h-2zM1167 835h3v1h-3zM1170 836h3v1h-3zM1173 837h2v1h-2zM1175 838h3v1h-3zM1178 839h5v1h-5zM1183 840h16v1h-16zM1199 839h6v1h-6zM1205 838h4v1h-4zM1209 837h6v1h-6zM1215 836h6v1h-6zM1221 835h4v1h-4zM1225 834h4v1h-4zM1229 833h4v1h-4zM1233 832h4v1h-4zM1237 831h2v1h-2zM1239 830h3v1h-3zM1242 829h2v1h-2zM1244 828h2v1h-2zM1246 827h2v1h-2zM1248 826h2v1h-2zM1250 825h2v1h-2zM1252 824h2v1h-2zM1254 823h2v1h-2zM1256 822h2v1h-2zM1258 821h2v1h-2zM1260 820h2v1h-2zM1262 819h1v1h-1zM1263 818h2v1h-2zM1265 817h2v1h-2zM1267 816h1v1h-1zM1268 815h2v1h-2zM1270 814h1v1h-1zM1271 813h2v1h-2zM1273 812h2v1h-2zM1275 811h1v1h-1zM1276 810h2v1h-2zM1278 809h2v1h-2zM1280 808h2v1h-2zM1282 807h2v1h-2zM1284 806h2v1h-2zM1286 805h1v1h-1zM1287 804h2v1h-2zM1289 803h2v1h-2zM1291 802h1v1h-1zM1292 801h2v1h-2zM1294 800h1v1h-1zM1295 799h2v1h-2zM1297 798h2v1h-2zM1299 797h1v1h-1zM1300 796h2v1h-2zM1302 795h2v1h-2zM1304 794h2v1h-2zM1306 793h3v1h-3zM1309 792h4v1h-4zM1313 791h4v1h-4zM1317 790h4v1h-4zM1321 789h6v1h-6zM1327 788h6v1h-6zM1333 787h4v1h-4zM1337 786h3v1h-3z"/>
<path fill="#0000ff" d="M3 644h2v1h-2zM5 645h2v1h-2zM7 646h3v1h-3zM10 647h2v1h-2zM12 648h1v1h-1zM13 649h1v1h-1zM14 650h1v1h-1zM15 651h1v1h-1zM16 652h1v1h-1zM17 653h1v1h-1zM18 654h1v1h-1zM19 655h1v2h-1zM20 657h1v2h-1zM21 659h1v3h-1zM22 662h1v3h-1zM23 665h1v2h-1zM24 667h1v3h-1zM25 670h1v3h-1zM26 673h1v2h-1zM27 675h1v2h-1zM28 677h1v1h-1zM29 678h1v2h-1zM30 680h1v1h-1zM31 681h1v1h-1zM32 682h1v1h-1zM33 683h1v2h-1zM34 685h1v1h-1zM35 686h1v1h-1zM36 687h1v2h-1zM37 689h1v1h-1zM38 690h1v1h-1zM39 691h1v2h-1zM40 693h1v1h-1zM41 694h1v1h-1zM42 695h1v2h-1zM43 697h1v1h-1zM44 698h1v2h-1zM45 700h1v1h-1zM46 701h1v1h-1zM47 702h1v2h-1zM48 704h1v1h-1zM49 705h1v1h-1zM50 706h1v2h-1zM51 708h1v1h-1zM52 709h1v2h-1zM53 711h1v2h-1zM54 713h1v2h-1zM55 715h1v1h-1zM56 716h1v2h-1zM57 718h1v2h-1zM58 720h1v2h-1zM59 722h1v1h-1zM60 723h1v1h-1zM61 724h1v2h-1zM62 726h1v1h-1zM63 727h1v1h-1zM64 728h1v1h-1zM65 729h1v2h-1zM66 731h1v1h-1zM67 732h1v1h-1zM68 733h1v1h-1zM69 734h1v1h-1zM70 735h1v1h-1zM71 736h2v1h-2zM73 737h1v1h-1zM74 738h1v1h-1zM75 739h1v1h-1zM76 740h1v1h-1zM77 741h1v1h-1zM78 742h1v1h-1zM79 743h1v1h-1zM80 744h1v1h-1zM81 745h1v1h-1zM82 746h1v1h-1zM83 747h1v1h-1zM84 748h1v1h-1zM85 749h2v1h-2zM87 750h1v1h-1zM88 751h1v1h-1zM89 752h2v1h-2zM91 753h1v1h-1zM92 754h1v1h-1zM93 755h1v1h-1zM94 756h1v1h-1zM95 757h1v2h-1zM96 759h1v1h-1zM97 760h1v1h-1zM98 761h1v1h-1zM99 762h1v1h-1zM100 763h1v1h-1zM101 764h1v1h-1zM102 765h1v1h-1zM103 766h1v1h-1zM104 767h1v1h-1zM105 768h1v1h-1zM106 769h1v1h-1zM107 770h1v1h-1zM108 771h1v1h-1zM109 772h1v1h-1zM110 773h1v1h-1zM111 774h1v1h-1zM112 775h1v1h-1zM113 776h1v1h-1zM114 777h1v1h-1zM115 778h1v1h-1zM116 779h1v1h-1zM117 780h2v1h-2zM119 781h1v1h-1zM120 782h1v1h-1zM121 783h2v1h-2zM123 784h2v1h-2zM125 785h4v1h-4zM129 786h3v1h-3zM132 787h1v2h-1zM133 789h1v2h-1zM134 791h1v2h-1zM135 793h1v1h-1zM136 794h1v2h-1zM137 796h1v2h-1zM138 798h1v2h-1zM139 800h1v1h-1zM140 801h2v1h-2zM142 802h1v1h-1zM143 803h2v1h-2zM145 804h2v1h-2zM147 805h2v1h-2zM149 804h4v1h-4zM153 803h3v1h-3zM156 804h1v1h-1zM157 805h2v1h-2zM159 806h1v1h-1zM160 807h1v1h-1zM161 808h2v1h-2zM163 809h1v1h-1zM164 810h2v1h-2zM166 811h2v1h-2zM168 812h2v1h-2zM170 813h2v1h-2zM172 811h1v2h-1zM173 810h1v1h-1zM174 809h1v1h-1zM175 807h1v2h-1zM176 806h1v1h-1zM177 805h1v1h-1zM178 803h1v2h-1zM179 801h1v2h-1zM180 799h1v2h-1zM181 797h1v2h-1zM182 795h1v2h-1zM183 793h1v2h-1zM184 791h1v2h-1zM185 789h1v2h-1zM186 787h1v2h-1zM187 784h1v3h-1zM188 782h1v2h-1zM189 780h1v2h-1zM190 777h1v3h-1zM191 775h1v2h-1zM192 772h1v3h-1zM193 770h1v2h-1zM194 768h1v2h-1zM195 765h1v3h-1zM196 763h1v2h-1zM197 760h1v3h-1zM198 758h1v2h-1zM199 755h1v3h-1zM200 753h1v2h-1zM201 750h1v3h-1zM202 748h1v2h-1zM203 746h1v2h-1zM204 745h1v1h-1zM205 743h1v2h-1zM206 742h1v1h-1zM207 741h1v1h-1zM208 740h1v1h-1zM209 738h1v2h-1zM210 737h1v1h-1zM211 736h1v1h-1zM212 735h1v1h-1zM213 734h1v1h-1zM214 733h1v1h-1zM215 731h1v2h-1zM216 730h1v1h-1zM217 729h1v1h-1zM218 728h1v1h-1zM219 727h1v1h-1zM220 726h2v1h-2zM222 725h1v1h-1zM223 724h2v1h-2zM225 723h2v1h-2zM227 722h2v1h-2zM229 721h4v1h-4zM233 720h3v1h-3zM236 719h1v1h-1zM237 718h1v1h-1zM238 717h1v1h-1zM239 715h1v2h-1zM240 714h1v1h-1zM241 713h1v1h-1zM242 712h1v1h-1zM243 711h1v1h-1zM244 710h1v1h-1zM245 709h1v1h-1zM246 708h1v1h-1zM247 707h2v1h-2zM249 706h1v1h-1zM250 705h1v1h-1zM251 704h1v1h-1zM252 703h1v1h-1zM253 702h1v1h-1zM254 701h1v1h-1zM255 700h1v1h-1zM256 699h1v1h-1zM257 698h1v1h-1zM258 697h1v1h-1zM259 696h1v1h-1zM260 695h2v1h-2zM262 694h2v1h-2zM264 693h2v1h-2zM266 692h5v1h-5zM271 693h6v1h-6zM277 694h2v1h-2zM279 695h3v1h-3zM282 696h2v1h-2zM284 694h1v2h-1zM285 692h1v2h-1zM286 690h1v2h-1zM287 688h1v2h-1zM288 686h1v2h-1zM289 684h1v2h-1zM290 682h1v2h-1zM291 681h1v1h-1zM292 679h1v2h-1zM293 678h1v1h-1zM294 676h1v2h-1zM295 675h1v1h-1zM296 673h1v2h-1zM297 672h1v1h-1zM298 670h1v2h-1zM299 669h2v1h-2zM301 668h2v1h-2zM303 667h3v1h-3zM306 666h2v1h-2zM308 665h2v1h-2zM310 664h2v1h-2zM312 663h2v1h-2zM314 662h5v1h-5zM319 663h5v1h-5zM324 664h2v1h-2zM326 665h1v1h-1zM327 666h2v1h-2zM329 667h2v1h-2zM331 668h1v1h-1zM332 669h2v1h-2zM334 670h1v1h-1zM335 671h2v1h-2zM337 672h2v1h-2zM339 673h1v2h-1zM340 675h1v2h-1zM341 677h1v2h-1zM342 679h1v2h-1zM343 681h1v3h-1zM344 684h1v2h-1zM345 686h1v2h-1zM346 688h1v2h-1zM347 690h1v2h-1zM348 692h2v1h-2zM350 693h1v1h-1zM351 694h2v1h-2zM353 695h2v1h-2zM355 696h1v1h-1zM356 695h2v1h-2zM358 694h2v1h-2zM360 693h2v1h-2zM362 692h2v1h-2zM364 693h2v1h-2zM366 694h2v1h-2zM368 695h2v1h-2zM370 696h2v1h-2zM372 697h1v1h-1zM373 698h1v2h-1zM374 700h1v1h-1zM375 701h1v1h-1zM376 702h1v1h-1zM377 703h1v2h-1zM378 705h1v1h-1zM379 706h1v1h-1zM380 707h1v1h-1zM381 708h1v1h-1zM382 709h1v1h-1zM383 710h1v1h-1zM384 711h1v1h-1zM385 712h1v1h-1zM386 713h1v1h-1zM387 714h1v1h-1zM388 715h2v1h-2zM390 716h2v1h-2zM392 717h2v1h-2zM394 718h2v1h-2zM396 719h1v1h-1zM397 720h2v1h-2zM399 721h1v1h-1zM400 722h1v1h-1zM401 723h2v1h-2zM403 724h1v1h-1zM404 725h2v1h-2zM406 726h1v1h-1zM407 727h2v1h-2zM409 728h2v1h-2zM411 729h4v1h-4zM415 728h6v1h-6zM421 729h4v1h-4zM425 730h6v1h-6zM431 729h14v1h-14zM445 730h2v1h-2zM447 731h3v1h-3zM450 732h2v1h-2zM452 733h2v1h-2zM454 734h1v1h-1zM455 735h2v1h-2zM457 736h2v1h-2zM459 737h1v1h-1zM460 738h1v1h-1zM461 739h2v1h-2zM463 740h1v1h-1zM464 741h1v1h-1zM465 742h2v1h-2zM467 743h18v1h-18zM485 744h4v1h-4zM489 745h3v1h-3zM492 746h1v1h-1zM493 747h1v1h-1zM494 748h1v1h-1zM495 749h2v1h-2zM497 750h1v1h-1zM498 751h1v1h-1zM499 752h1v1h-1zM500 753h1v1h-1zM501 754h1v1h-1zM502 755h1v1h-1zM503 756h1v2h-1zM504 758h1v1h-1zM505 759h1v1h-1zM506 760h1v1h-1zM507 761h1v1h-1zM508 762h1v1h-1zM509 763h1v2h-1zM510 765h1v1h-1zM511 766h1v1h-1zM512 767h1v1h-1zM513 768h1v2h-1zM514 770h1v1h-1zM515 771h1v1h-1zM516 772h1v2h-1zM517 774h1v1h-1zM518 775h1v2h-1zM519 777h1v1h-1zM520 778h1v2h-1zM521 780h1v1h-1zM522 781h1v2h-1zM523 783h1v1h-1zM524 784h1v1h-1zM525 785h1v1h-1zM526 786h1v1h-1zM527 787h1v2h-1zM528 789h1v1h-1zM529 790h1v1h-1zM530 791h1v1h-1zM531 792h1v1h-1zM532 793h1v1h-1zM533 794h1v1h-1zM534 795h1v1h-1zM535 796h1v1h-1zM536 797h1v1h-1zM537 798h1v1h-1zM538 799h1v1h-1zM539 800h1v1h-1zM540 801h1v2h-1zM541 803h1v2h-1zM542 805h1v2h-1zM543 807h1v2h-1zM544 809h1v2h-1zM545 811h1v2h-1zM546 813h1v2h-1zM547 815h1v2h-1zM548 817h1v2h-1zM549 819h1v2h-1zM550 821h1v2h-1zM551 823h1v2h-1zM552 825h1v2h-1zM553 827h1v2h-1zM554 829h1v2h-1zM555 831h1v2h-1zM556 833h1v1h-1zM557 834h1v1h-1zM558 835h1v1h-1zM559 836h1v2h-1zM560 838h1v1h-1zM561 839h1v1h-1zM562 840h1v1h-1zM563 841h1v1h-1zM564 842h1v2h-1zM565 844h1v1h-1zM566 845h1v1h-1zM567 846h1v2h-1zM568 848h1v1h-1zM569 849h1v1h-1zM570 850h1v2h-1zM571 852h1v1h-1zM572 853h1v1h-1zM573 854h1v1h-1zM574 855h1v1h-1zM575 856h2v1h-2zM577 857h1v1h-1zM578 858h1v1h-1zM579 859h4v1h-4zM583 858h16v1h-16zM599 859h6v1h-6zM605 858h4v1h-4zM609 857h4v1h-4zM613 856h2v1h-2zM615 855h3v1h-3zM618 854h2v1h-2zM620 853h1v1h-1zM621 852h1v1h-1zM622 851h1v1h-1zM623 850h1v1h-1zM624 849h1v1h-1zM625 848h1v1h-1zM626 847h1v1h-1zM627 846h1v1h-1zM628 845h2v1h-2zM630 844h2v1h-2zM632 843h2v1h-2zM634 842h2v1h-2zM636 841h1v1h-1zM637 840h2v1h-2zM639 839h1v1h-1zM640 838h1v1h-1zM641 837h2v1h-2zM643 836h1v1h-1zM644 835h1v1h-1zM645 834h1v1h-1zM646 833h1v1h-1zM647 832h1v1h-1zM648 831h1v1h-1zM649 830h1v1h-1zM650 829h1v1h-1zM651 828h1v1h-1zM652 827h1v1h-1zM653 826h1v1h-1zM654 825h1v1h-1zM655 824h1v1h-1zM656 823h1v1h-1zM657 822h1v1h-1zM658 821h1v1h-1zM659 820h1v1h-1zM660 819h1v1h-1zM661 817h1v2h-1zM662 816h1v1h-1zM663 815h1v1h-1zM664 814h1v1h-1zM665 812h1v2h-1zM666 811h1v1h-1zM667 810h2v1h-2zM669 809h2v1h-2zM671 808h3v1h-3zM674 807h3v1h-3zM677 806h2v1h-2zM679 805h3v1h-3zM682 804h19v1h-19zM701 805h2v1h-2zM703 806h3v1h-3zM706 807h2v1h-2zM708 808h2v1h-2zM710 809h2v1h-2zM712 810h2v1h-2zM714 811h2v1h-2zM716 812h1v2h-1zM717 814h1v1h-1zM718 815h1v1h-1zM719 816h1v2h-1zM720 818h1v1h-1zM721 819h1v1h-1zM722 820h1v2h-1zM723 822h1v1h-1zM724 823h1v2h-1zM725 825h1v2h-1zM726 827h1v1h-1zM727 828h1v2h-1zM728 830h1v1h-1zM729 831h1v2h-1zM730 833h1v2h-1zM731 835h1v1h-1zM732 836h1v2h-1zM733 838h1v1h-1zM734 839h1v2h-1zM735 841h1v1h-1zM736 842h1v2h-1zM737 844h1v1h-1zM738 845h1v2h-1zM739 847h1v1h-1zM740 848h1v2h-1zM741 850h1v1h-1zM742 851h1v1h-1zM743 852h1v2h-1zM744 854h1v1h-1zM745 855h1v1h-1zM746 856h1v2h-1zM747 858h1v1h-1zM748 859h2v1h-2zM750 860h1v1h-1zM751 861h2v1h-2zM753 862h2v1h-2zM755 863h2v1h-2zM757 862h2v1h-2zM759 861h3v1h-3zM762 860h11v1h-11zM773 859h4v1h-4zM777 858h3v1h-3zM780 857h2v1h-2zM782 856h1v1h-1zM783 855h2v1h-2zM785 854h2v1h-2zM787 853h4v1h-4zM791 852h6v1h-6zM797 851h2v1h-2zM799 850h3v1h-3zM802 849h2v1h-2zM804 848h2v1h-2zM806 847h1v1h-1zM807 846h2v1h-2zM809 845h2v1h-2zM811 844h25v1h-25zM836 843h2v1h-2zM838 842h2v1h-2zM840 841h2v1h-2zM842 840h3v1h-3zM845 839h2v1h-2zM847 838h3v1h-3zM850 837h3v1h-3zM853 836h4v1h-4zM857 835h4v1h-4zM861 834h4v1h-4zM865 833h4v1h-4zM869 832h2v1h-2zM871 831h3v1h-3zM874 830h3v1h-3zM877 829h4v1h-4zM881 828h4v1h-4zM885 827h2v1h-2zM887 826h3v1h-3zM890 825h3v1h-3zM893 824h4v1h-4zM897 823h6v1h-6zM903 824h13v1h-13zM916 825h2v1h-2zM918 826h2v1h-2zM920 827h2v1h-2zM922 828h11v1h-11zM933 827h4v1h-4zM937 826h3v1h-3zM940 825h1v1h-1zM941 824h2v1h-2zM943 823h1v1h-1zM944 822h1v1h-1zM945 821h2v1h-2zM947 820h1v1h-1zM948 818h1v2h-1zM949 817h1v1h-1zM950 816h1v1h-1zM951 814h1v2h-1zM952 813h1v1h-1zM953 812h1v1h-1zM954 810h1v2h-1zM955 809h1v1h-1zM956 808h1v1h-1zM957 807h1v1h-1zM958 806h1v1h-1zM959 805h2v1h-2zM961 804h1v1h-1zM962 803h1v1h-1zM963 802h1v1h-1zM964 801h2v1h-2zM966 800h2v1h-2zM968 799h2v1h-2zM970 798h5v1h-5zM975 797h6v1h-6zM981 796h2v1h-2zM983 795h3v1h-3zM986 794h5v1h-5zM991 793h16v1h-16zM1007 794h16v1h-16zM1023 793h5v1h-5zM1028 792h2v1h-2zM1030 791h2v1h-2zM1032 790h2v1h-2zM1034 789h10v1h-10zM1044 788h2v1h-2zM1046 787h1v1h-1zM1047 786h2v1h-2zM1049 785h2v1h-2zM1051 784h4v1h-4zM1055 783h5v1h-5zM1060 784h2v1h-2zM1062 785h1v1h-1zM1063 786h2v1h-2zM1065 787h2v1h-2zM1067 788h1v1h-1zM1068 787h1v1h-1zM1069 786h1v1h-1zM1070 785h1v1h-1zM1071 783h1v2h-1zM1072 782h1v1h-1zM1073 781h1v1h-1zM1074 780h1v1h-1zM1075 779h12v1h-12zM1087 780h5v1h-5zM1092 781h2v1h-2zM1094 782h1v1h-1zM1095 783h2v1h-2zM1097 784h2v1h-2zM1099 785h1v2h-1zM1100 787h1v2h-1zM1101 789h1v2h-1zM1102 791h1v2h-1zM1103 793h1v2h-1zM1104 795h1v2h-1zM1105 797h1v2h-1zM1106 799h1v2h-1zM1107 801h1v2h-1zM1108 803h1v2h-1zM1109 805h1v1h-1zM1110 806h1v2h-1zM1111 808h1v1h-1zM1112 809h1v2h-1zM1113 811h1v1h-1zM1114 812h1v2h-1zM1115 814h1v1h-1zM1116 815h1v2h-1zM1117 817h1v1h-1zM1118 818h1v1h-1zM1119 819h1v2h-1zM1120 821h1v1h-1zM1121 822h1v1h-1zM1122 823h1v2h-1zM1123 825h1v1h-1zM1124 826h1v2h-1zM1125 828h1v1h-1zM1126 829h1v1h-1zM1127 830h1v2h-1zM1128 832h1v1h-1zM1129 833h1v1h-1zM1130 834h1v2h-1zM1131 836h1v1h-1zM1132 837h1v1h-1zM1133 838h1v1h-1zM1134 839h1v1h-1zM1135 840h1v2h-1zM1136 842h1v1h-1zM1137 843h1v1h-1zM1138 844h1v1h-1zM1139 845h1v1h-1zM1140 846h2v1h-2zM1142 847h1v1h-1zM1143 848h2v1h-2zM1145 849h2v1h-2zM1147 850h2v1h-2zM1149 851h4v1h-4zM1153 852h4v1h-4zM1157 851h4v1h-4zM1161 850h11v1h-11zM1172 849h2v1h-2zM1174 848h2v1h-2zM1176 847h2v1h-2zM1178 846h2v1h-2zM1180 845h2v1h-2zM1182 844h2v1h-2zM1184 843h2v1h-2zM1186 842h3v1h-3zM1189 841h4v1h-4zM1193 840h4v1h-4zM1197 839h4v1h-4zM1201 838h4v1h-4zM1205 837h2v1h-2zM1207 836h3v1h-3zM1210 835h2v1h-2zM1212 834h2v1h-2zM1214 833h2v1h-2zM1216 832h2v1h-2zM1218 831h2v1h-2zM1220 830h2v1h-2zM1222 829h2v1h-2zM1224 828h2v1h-2zM1226 827h3v1h-3zM1229 826h2v1h-2zM1231 825h3v1h-3zM1234 824h2v1h-2zM1236 823h1v1h-1zM1237 822h1v1h-1zM1238 821h1v1h-1zM1239 820h1v1h-1zM1240 819h1v1h-1zM1241 818h1v1h-1zM1242 817h1v1h-1zM1243 816h1v1h-1zM1244 815h1v1h-1zM1245 814h1v1h-1zM1246 813h1v1h-1zM1247 812h2v1h-2zM1249 811h1v1h-1zM1250 810h1v1h-1zM1251 809h1v1h-1zM1252 808h2v1h-2zM1254 807h1v1h-1zM1255 806h2v1h-2zM1257 805h2v1h-2zM1259 804h2v1h-2zM1261 803h2v1h-2zM1263 802h3v1h-3zM1266 801h2v1h-2zM1268 800h2v1h-2zM1270 799h1v1h-1zM1271 798h2v1h-2zM1273 797h2v1h-2zM1275 796h1v1h-1zM1276 795h1v1h-1zM1277 794h1v1h-1zM1278 793h1v1h-1zM1279 791h1v2h-1zM1280 790h1v1h-1zM1281 789h1v1h-1zM1282 788h1v1h-1zM1283 787h1v1h-1zM1284 786h2v1h-2zM1286 785h1v1h-1zM1287 784h2v1h-2zM1289 783h2v1h-2zM1291 782h2v1h-2zM1293 781h4v1h-4zM1297 780h4v1h-4zM1301 781h2v1h-2zM1303 782h3v1h-3zM1306 783h3v1h-3zM1309 784h4v1h-4zM1313 785h11v1h-11zM1324 784h2v1h-2zM1326 783h2v1h-2zM1328 782h2v1h-2zM1330 781h5v1h-5zM1335 780h5v1h-5z"/></g>
<g id="hist"><path fill="#008000" d="M3 752h1v37h-1zM11 762h1v27h-1zM19 774h1v15h-1zM187 780h1v9h-1zM195 768h1v21h-1zM203 757h1v32h-1zM211 755h1v34h-1zM219 755h1v34h-1zM227 757h1v32h-1zM235 761h1v28h-1zM243 760h1v29h-1zM251 760h1v29h-1zM259 760h1v29h-1zM267 763h1v26h-1zM275 769h1v20h-1zM283 775h1v14h-1zM291 766h1v23h-1zM299 760h1v29h-1zM307 764h1v25h-1zM315 766h1v23h-1zM323 772h1v17h-1zM331 779h1v10h-1zM339 785h1v4h-1zM635 786h1v3h-1zM643 782h1v7h-1zM651 777h1v12h-1zM659 773h1v16h-1zM667 767h1v22h-1zM675 769h1v20h-1zM683 771h1v18h-1zM691 775h1v14h-1zM699 778h1v11h-1zM707 783h1v6h-1zM715 787h1v2h-1zM803 787h1v2h-1zM811 784h1v5h-1zM819 785h1v4h-1zM827 785h1v4h-1zM835 787h1v2h-1zM843 784h1v5h-1zM851 782h1v7h-1zM859 782h1v7h-1zM867 782h1v7h-1zM875 782h1v7h-1zM883 782h1v7h-1zM891 780h1v9h-1zM899 780h1v9h-1zM907 783h1v6h-1zM915 784h1v5h-1zM939 787h1v2h-1zM947 783h1v6h-1zM955 776h1v13h-1zM963 774h1v15h-1zM971 772h1v17h-1zM979 775h1v14h-1zM987 775h1v14h-1zM995 777h1v12h-1zM1003 779h1v10h-1zM1011 782h1v7h-1zM1019 784h1v5h-1zM1027 784h1v5h-1zM1035 782h1v7h-1zM1043 783h1v6h-1zM1051 780h1v9h-1zM1059 782h1v7h-1zM1067 787h1v2h-1zM1075 780h1v9h-1zM1083 782h1v7h-1zM1091 784h1v5h-1zM1099 787h1v2h-1zM1203 787h1v2h-1zM1211 787h1v2h-1zM1219 783h1v6h-1zM1227 782h1v7h-1zM1235 780h1v9h-1zM1243 775h1v14h-1zM1251 773h1v16h-1zM1259 772h1v17h-1zM1267 773h1v16h-1zM1275 773h1v16h-1zM1283 768h1v21h-1zM1291 768h1v21h-1zM1299 772h1v17h-1zM1307 779h1v10h-1zM1315 782h1v7h-1zM1323 784h1v5h-1zM1331 782h1v7h-1zM1339 782h1v7h-1z"/>
<path fill="#ff0000" d="M27 788h1v5h-1zM35 788h1v12h-1zM43 788h1v18h-1zM51 788h1v23h-1zM59 788h1v30h-1zM67 788h1v31h-1zM75 788h1v31h-1zM83 788h1v31h-1zM91 788h1v29h-1zM99 788h1v31h-1zM107 788h1v31h-1zM115 788h1v32h-1zM123 788h1v30h-1zM131 788h1v25h-1zM139 788h1v32h-1zM147 788h1v30h-1zM155 788h1v23h-1zM163 788h1v24h-1zM171 788h1v23h-1zM179 788h1v8h-1zM347 788h1v12h-1zM355 788h1v13h-1zM363 788h1v8h-1zM371 788h1v10h-1zM379 788h1v16h-1zM387 788h1v18h-1zM395 788h1v17h-1zM403 788h1v18h-1zM411 788h1v19h-1zM419 788h1v15h-1zM427 788h1v14h-1zM435 788h1v10h-1zM443 788h1v8h-1zM451 788h1v9h-1zM459 788h1v11h-1zM467 788h1v13h-1zM475 788h1v11h-1zM483 788h1v9h-1zM491 788h1v9h-1zM499 788h1v13h-1zM507 788h1v17h-1zM515 788h1v22h-1zM523 788h1v27h-1zM531 788h1v29h-1zM539 788h1v30h-1zM547 788h1v36h-1zM555 788h1v42h-1zM563 788h1v41h-1zM571 788h1v41h-1zM579 788h1v39h-1zM587 788h1v31h-1zM595 788h1v24h-1zM603 788h1v21h-1zM611 788h1v15h-1zM619 788h1v10h-1zM627 788h1v1h-1zM723 788h1v7h-1zM731 788h1v16h-1zM739 788h1v23h-1zM747 788h1v28h-1zM755 788h1v26h-1zM763 788h1v19h-1zM771 788h1v15h-1zM779 788h1v10h-1zM787 788h1v4h-1zM795 788h1v3h-1zM1107 788h1v14h-1zM1115 788h1v21h-1zM1123 788h1v25h-1zM1131 788h1v28h-1zM1139 788h1v30h-1zM1147 788h1v29h-1zM1155 788h1v25h-1zM1163 788h1v18h-1zM1171 788h1v14h-1zM1179 788h1v8h-1zM1187 788h1v3h-1zM1195 788h1v1h-1z"/></g>
<g id="frame"><path fill="#000080" d="M2 2h1869v1h-1869zM2 2h1v874h-1zM1870 2h1v874h-1zM2 630h1869v1h-1869zM2 632h1869v1h-1869zM2 875h1869v1h-1869zM1871 28h2v1h-2zM1871 61h2v1h-2zM1871 94h2v1h-2zM1871 127h2v1h-2zM1871 161h2v1h-2zM1871 194h2v1h-2zM1871 227h2v1h-2zM1871 261h2v1h-2zM1871 294h2v1h-2zM1871 327h2v1h-2zM1871 360h2v1h-2zM1871 394h2v1h-2zM1871 427h2v1h-2zM1871 460h2v1h-2zM1871 493h2v1h-2zM1871 527h2v1h-2zM1871 560h2v1h-2zM1871 593h2v1h-2zM1871 627h2v1h-2zM1871 633h2v1h-2zM1871 788h2v1h-2zM1871 874h2v1h-2zM3 876h1v3h-1zM67 876h1v3h-1zM131 876h1v3h-1zM195 876h1v3h-1zM259 876h1v3h-1zM323 876h1v3h-1zM387 876h1v3h-1zM451 876h1v3h-1zM515 876h1v3h-1zM579 876h1v3h-1zM643 876h1v3h-1zM707 876h1v3h-1zM771 876h1v3h-1zM835 876h1v3h-1zM899 876h1v3h-1zM963 876h1v3h-1zM1027 876h1v3h-1zM1091 876h1v3h-1zM1155 876h1v3h-1zM1219 876h1v3h-1zM1283 876h1v3h-1z"/><rect x="0" y="0" width="2" height="896" fill="#fff"/><rect x="0" y="631" width="1916" height="1" fill="#fff"/></g>
<g id="arrows"><path d="M1088.0 363.3 L1094.9 363.3 L1094.9 376.2 L1097.7 376.2 L1091.45 382.9 L1085.2 376.2 L1088.0 376.2Z" fill="#fff" stroke="#000" stroke-width="1.8" stroke-linejoin="miter" shape-rendering="geometricPrecision"/><path d="M1094.95 752 L1103.05 752 L1103.05 765.1 L1106 765.1 L1099.0 772.4 L1092 765.1 L1094.95 765.1Z" fill="#fff" stroke="#000" stroke-width="1.8" stroke-linejoin="miter" shape-rendering="geometricPrecision"/><path d="M1063.7 374.6 L1067.9 374.6 L1067.9 380.6 L1070.2 380.6 L1065.8 384.6 L1061.4 380.6 L1063.7 380.6Z" fill="#fff" stroke="#3333ff" stroke-width="1" stroke-linejoin="miter" shape-rendering="geometricPrecision"/></g>
</svg>
<span class="ax" style="left:1876px;top:24.27px">147.210</span>
<span class="ax" style="left:1876px;top:57.27px">147.070</span>
<span class="ax" style="left:1876px;top:90.27px">146.935</span>
<span class="ax" style="left:1876px;top:123.27px">146.795</span>
<span class="ax" style="left:1876px;top:157.27px">146.655</span>
<span class="ax" style="left:1876px;top:190.27px">146.520</span>
<span class="ax" style="left:1876px;top:223.27px">146.380</span>
<span class="ax" style="left:1876px;top:257.27px">146.240</span>
<span class="ax" style="left:1876px;top:290.27px">146.105</span>
<span class="ax" style="left:1876px;top:323.27px">145.965</span>
<span class="ax" style="left:1876px;top:356.27px">145.825</span>
<span class="ax" style="left:1876px;top:390.27px">145.690</span>
<span class="ax" style="left:1876px;top:423.27px">145.550</span>
<span class="ax" style="left:1876px;top:456.27px">145.415</span>
<span class="ax" style="left:1876px;top:489.27px">145.275</span>
<span class="ax" style="left:1876px;top:523.27px">145.135</span>
<span class="ax" style="left:1876px;top:556.27px">145.000</span>
<span class="ax" style="left:1876px;top:589.27px">144.860</span>
<span class="ax" style="left:1876px;top:623.27px">144.720</span>
<span class="ax" style="left:1874px;top:635.27px">0.4384</span>
<span class="ax" style="left:1874px;top:784.27px">0.00</span>
<span class="ax" style="left:1874px;top:864.27px">-0.245</span>
<div class="cur" style="left:1872px;top:468px"><span>145.358</span></div>
<span class="ax" style="left:3px;top:880.27px">1 Apr 2019</span>
<span class="ax" style="left:67px;top:880.27px">2 Apr 05:00</span>
<span class="ax" style="left:131px;top:880.27px">2 Apr 13:00</span>
<span class="ax" style="left:195px;top:880.27px">2 Apr 21:00</span>
<span class="ax" style="left:259px;top:880.27px">3 Apr 05:00</span>
<span class="ax" style="left:323px;top:880.27px">3 Apr 13:00</span>
<span class="ax" style="left:387px;top:880.27px">3 Apr 21:00</span>
<span class="ax" style="left:451px;top:880.27px">4 Apr 05:00</span>
<span class="ax" style="left:515px;top:880.27px">4 Apr 13:00</span>
<span class="ax" style="left:579px;top:880.27px">4 Apr 21:00</span>
<span class="ax" style="left:643px;top:880.27px">5 Apr 05:00</span>
<span class="ax" style="left:707px;top:880.27px">5 Apr 13:00</span>
<span class="ax" style="left:771px;top:880.27px">5 Apr 21:00</span>
<span class="ax" style="left:835px;top:880.27px">8 Apr 05:00</span>
<span class="ax" style="left:899px;top:880.27px">8 Apr 13:00</span>
<span class="ax" style="left:963px;top:880.27px">8 Apr 21:00</span>
<span class="ax" style="left:1027px;top:880.27px">9 Apr 05:00</span>
<span class="ax" style="left:1091px;top:880.27px">9 Apr 13:00</span>
<span class="ax" style="left:1155px;top:880.27px">9 Apr 21:00</span>
<span class="ax" style="left:1219px;top:880.27px">10 Apr 05:00</span>
<span class="ax" style="left:1283px;top:880.27px">10 Apr 13:00</span>
<span class="ax" style="left:18px;top:6.27px;white-space:pre;letter-spacing:-.08px;word-spacing:.4px">GBPJPY,H1  145.368 145.446 145.314 145.358</span>
<svg class="trisvg" width="9" height="6" viewBox="0 0 9 6" shape-rendering="crispEdges"><path fill="#000080" d="M3 0h1v1h-1zM2 1h3v1h-3zM1 2h5v1h-5zM0 3h7v1h-7z"/></svg>
<span class="ax" style="left:7.5px;top:637.27px;letter-spacing:-.04px"><span style="letter-spacing:.3px">MACD</span>(12,26,9) 0.0243 0.0030 0.0213 0.0000</span>
<span class="num" style="left:1053px;top:345.8px;transform:scaleX(.86)">1</span>
<span class="num" style="left:1093.2px;top:723px">2</span>
<div class="sb" style="left:1749px;top:1px"><span>EURMXN</span></div><div class="sb" style="left:1810px;top:1px"><span>USDCZK</span></div>
<div class="sb" style="left:1749px;top:22px"><span>EURCZK</span></div><div class="sb" style="left:1810px;top:22px"><span>USDPLN</span></div>
<div class="sb" style="left:1749px;top:43px"><span>USDHKD</span></div><div class="sb" style="left:1810px;top:43px"><span>GBPPLN</span></div>
<div class="sb" style="left:1749px;top:64px"><span>GBPNOK</span></div><div class="sb" style="left:1810px;top:64px"><span>GBPDKK</span></div>
<div class="sb" style="left:1749px;top:85px"><span>EURPLN</span></div><div class="sb" style="left:1810px;top:85px"><span>EURHKD</span></div>
<div class="sb" style="left:1749px;top:106px"><span>EURDKK</span></div><div class="sb" style="left:1810px;top:106px"><span>AUDPLN</span></div>
<div class="sb" style="left:1749px;top:127px"><span>AUDDKK</span></div><div class="sb" style="left:1810px;top:127px"><span>PLNJPY</span></div>
<div class="sb" style="left:1749px;top:148px"><span>NOKSEK</span></div><div class="sb" style="left:1810px;top:148px"><span>EURTRY</span></div>
<div class="sb" style="left:1749px;top:169px"><span>USDTRY</span></div><div class="sb" style="left:1810px;top:169px"><span>USDHUF</span></div>
<div class="sb" style="left:1749px;top:190px"><span>EURHUF</span></div><div class="sb" style="left:1810px;top:190px"><span>USDSGD</span></div>
<div class="sb" style="left:1749px;top:211px"><span>USDSEK</span></div><div class="sb" style="left:1810px;top:211px"><span>USDNOK</span></div>
<div class="sb" style="left:1749px;top:232px"><span>USDDKK</span></div><div class="sb" style="left:1810px;top:232px"><span>SGDJPY</span></div>
<div class="sb" style="left:1749px;top:253px"><span>NZDSGD</span></div><div class="sb" style="left:1810px;top:253px"><span>GBPSGD</span></div>
<div class="sb" style="left:1749px;top:274px"><span>EURSGD</span></div><div class="sb" style="left:1810px;top:274px"><span>EURSEK</span></div>
<div class="sb" style="left:1749px;top:295px"><span>EURNOK</span></div><div class="sb" style="left:1810px;top:295px"><span>AUDSGD</span></div>
<div class="sb" style="left:1749px;top:316px"><span>NZDJPY</span></div><div class="sb" style="left:1810px;top:316px"><span>NZDCAD</span></div>
<div class="sb" style="left:1749px;top:337px"><span>GBPNZD</span></div><div class="sb" style="left:1810px;top:337px"><span>EURNZD</span></div>
<div class="sb" style="left:1749px;top:358px"><span>GBPAUD</span></div><div class="sb" style="left:1810px;top:358px"><span>EURAUD</span></div>
<div class="sb" style="left:1749px;top:379px"><span>AUDNZD</span></div><div class="sb" style="left:1810px;top:379px"><span>AUDCAD</span></div>
<div class="sb" style="left:1749px;top:400px"><span>CHFSGD</span></div><div class="sb" style="left:1810px;top:400px"><span>AUDJPY</span></div>
<div class="sb" style="left:1749px;top:421px"><span>NZDCHF</span></div><div class="sb" style="left:1810px;top:421px"><span>CHFPLN</span></div>
<div class="sb" style="left:1749px;top:442px"><span>AUDCHF</span></div><div class="sb" style="left:1810px;top:442px"><span>NZDUSD</span></div>
<div class="sb" style="left:1749px;top:463px"><span>AUDUSD</span></div><div class="sb" style="left:1810px;top:463px"><span>EURCAD</span></div>
<div class="sb" style="left:1749px;top:484px"><span>GBPCAD</span></div><div class="sb" style="left:1810px;top:484px"><span>CADJPY</span></div>
<div class="sb" style="left:1749px;top:505px"><span>CHFJPY</span></div><div class="sb" style="left:1810px;top:505px"><span>CADCHF</span></div>
<div class="sb" style="left:1749px;top:526px"><span>USDCHF</span></div><div class="sb" style="left:1810px;top:526px"><span>GBPCHF</span></div>
<div class="sb" style="left:1749px;top:547px"><span>EURCHF</span></div><div class="sb" style="left:1810px;top:547px"><span>USDCAD</span></div>
<div class="sb" style="left:1749px;top:568px"><span style="color:#ff0000">GBPJPY</span></div><div class="sb" style="left:1810px;top:568px"><span>EURGBP</span></div>
<div class="sb" style="left:1749px;top:589px"><span>EURJPY</span></div><div class="sb" style="left:1810px;top:589px"><span>USDJPY</span></div>
<div class="sb" style="left:1749px;top:610px"><span>GBPUSD</span></div><div class="sb" style="left:1810px;top:610px"><span>EURUSD</span></div>
<div class="cap"></div>
<div id="tp">
<div class="tb" style="left:0;top:0;width:44px;height:23px;clip-path:inset(0 0 1px 0)"></div>
<div class="tb" style="left:143px;top:0;width:44px;height:23px;clip-path:inset(0 0 1px 0)"></div>
<div class="tbg" style="left:0;top:22px;width:93px;height:34px"></div>
<div class="tbg" style="left:95px;top:22px;width:92px;height:34px"></div>
<div class="tl2" style="left:44px;top:22px;width:49px"></div><div class="tl2" style="left:95px;top:22px;width:48px"></div>
<div class="ul" style="left:4px;top:21px;width:36px"></div>
<div class="ul" style="left:147px;top:21px;width:36px"></div>
<span class="tl" style="left:-1px;width:44px;top:3px">SELL</span>
<span class="tl" style="left:140.5px;width:44px;top:3px;transform:scaleX(.91)">BUY</span>
<div class="spin"><div class="sbt l" style="left:0"><i class="dn"></i></div><div class="sin">0.04</div><div class="sbt r" style="right:0"><i class="up"></i></div></div>
<span class="sm" style="left:16px;top:40px">145</span><span class="bg" style="left:40px;top:23px">35</span><span class="sp" style="left:76.5px;top:25px">8</span>
<span class="sm" style="left:110px;top:40px">145</span><span class="bg" style="left:135px;top:23px">38</span><span class="sp" style="left:171.5px;top:25px">8</span>
</div>
</body></html>
